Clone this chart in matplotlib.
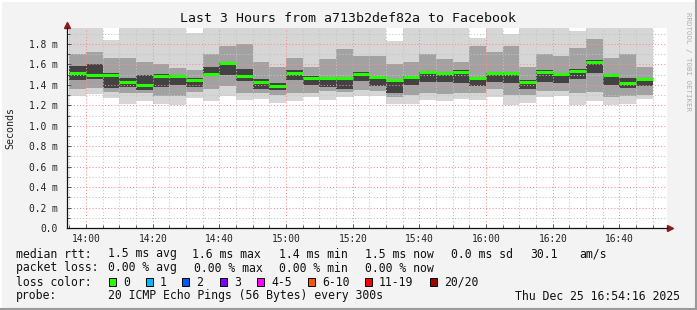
import matplotlib
matplotlib.use("Agg")
import matplotlib.pyplot as plt
import matplotlib.dates as mdates
from matplotlib.patches import Rectangle
from matplotlib.lines import Line2D
import matplotlib.transforms as mtrans
import numpy as np
import pandas as pd

W, H = 697, 310
MONO = "DejaVu Sans Mono"

# 5 minute rounds, 20 pings each (values in ms)
bar_start = pd.date_range("2025-12-25 13:55", periods=35, freq="5min")
median = [1.52, 1.50, 1.494, 1.43, 1.40, 1.49, 1.49, 1.45, 1.51, 1.61,
          1.49, 1.43, 1.39, 1.52, 1.465, 1.465, 1.465, 1.507, 1.48, 1.445,
          1.48, 1.53, 1.52, 1.526, 1.47, 1.517, 1.517, 1.425, 1.526, 1.507,
          1.533, 1.624, 1.50, 1.42, 1.46]
rtt_min = [1.29, 1.31, 1.27, 1.21, 1.24, 1.21, 1.20, 1.27, 1.24, 1.29,
           1.25, 1.26, 1.22, 1.24, 1.285, 1.25, 1.28, 1.29, 1.29, 1.21,
           1.21, 1.25, 1.24, 1.26, 1.25, 1.28, 1.20, 1.22, 1.28, 1.29,
           1.20, 1.24, 1.20, 1.21, 1.26]
rtt_max = [2.0, 2.0, 1.84, 2.0, 2.0, 2.0, 2.0, 1.91, 2.0, 2.0,
           2.0, 2.0, 2.0, 2.0, 2.0, 2.0, 2.0, 2.0, 2.0, 1.83,
           2.0, 2.0, 2.0, 2.0, 1.86, 2.0, 1.90, 2.0, 2.0, 2.0,
           1.93, 2.0, 2.0, 2.0, 2.0]
mid_lo = [1.36, 1.37, 1.33, 1.32, 1.32, 1.29, 1.29, 1.33, 1.36, 1.39,
          1.32, 1.32, 1.30, 1.32, 1.32, 1.34, 1.33, 1.35, 1.34, 1.28,
          1.30, 1.32, 1.31, 1.32, 1.32, 1.36, 1.30, 1.30, 1.34, 1.34,
          1.32, 1.33, 1.28, 1.29, 1.30]
mid_hi = [1.70, 1.72, 1.66, 1.66, 1.62, 1.60, 1.57, 1.55, 1.70, 1.78,
          1.80, 1.62, 1.58, 1.66, 1.58, 1.65, 1.75, 1.68, 1.68, 1.60,
          1.62, 1.70, 1.65, 1.62, 1.78, 1.72, 1.78, 1.58, 1.70, 1.68,
          1.76, 1.85, 1.66, 1.70, 1.58]
core_lo = [1.45, 1.46, 1.37, 1.38, 1.35, 1.38, 1.40, 1.38, 1.49, 1.50,
           1.44, 1.36, 1.35, 1.45, 1.40, 1.38, 1.36, 1.44, 1.39, 1.32,
           1.40, 1.43, 1.43, 1.42, 1.39, 1.43, 1.42, 1.36, 1.43, 1.42,
           1.46, 1.52, 1.40, 1.37, 1.39]
core_hi = [1.59, 1.60, 1.52, 1.47, 1.50, 1.51, 1.50, 1.47, 1.58, 1.62,
           1.56, 1.46, 1.42, 1.55, 1.49, 1.48, 1.47, 1.53, 1.49, 1.45,
           1.49, 1.53, 1.52, 1.55, 1.48, 1.52, 1.52, 1.45, 1.55, 1.52,
           1.56, 1.64, 1.51, 1.47, 1.47]

loss_labels = ["0", "1", "2", "3", "4-5", "6-10", "11-19", "20/20"]
loss_colors = ["#26ff00", "#00b8ff", "#0059ff", "#7e00ff", "#ff00ff",
               "#ff5500", "#ff0000", "#a00000"]

# legend rows: (x pixel, text) pieces
rtt_row = [(16, "median rtt:"), (108, "1.5 ms avg"), (192, "1.6 ms max"),
           (279, "1.4 ms min"), (365, "1.5 ms now"), (451, "0.0 ms sd"),
           (530, "30.1"), (579, "am/s")]
loss_row = [(16, "packet loss:"), (108, "0.00 % avg"), (194, "0.00 % max"),
            (279, "0.00 % min"), (365, "0.00 % now")]
probe_row = [(16, "probe:"), (108, "20 ICMP Echo Pings (56 Bytes) every 300s")]

fig = plt.figure(figsize=(W / 100, H / 100), dpi=100, facecolor="#f3f3f3")
ax = fig.add_axes([67 / W, (H - 228) / H, 600 / W, 200 / H])
ax.set_facecolor("white")

x = mdates.date2num(bar_start.to_pydatetime())
w = 5 / 1440.0
lo = np.array(rtt_min)
ax.bar(x, np.array(rtt_max) - lo, bottom=lo, width=w, align="edge",
       color="#d6d6d6", linewidth=0, zorder=1)
ax.bar(x, np.array(mid_hi) - np.array(mid_lo), bottom=mid_lo, width=w,
       align="edge", color="#a2a2a2", linewidth=0, zorder=1)
ax.bar(x, np.array(core_hi) - np.array(core_lo), bottom=core_lo, width=w,
       align="edge", color="#424242", linewidth=0, zorder=1)
ax.hlines(median, x, x + w, color="#26ff00", lw=2.2, zorder=3)

t0 = pd.Timestamp("2025-12-25 13:54:16").to_pydatetime()
t1 = pd.Timestamp("2025-12-25 16:54:16").to_pydatetime()
ax.set_xlim(mdates.date2num(t0), mdates.date2num(t1))
ax.set_ylim(0, 1.957)

ax.xaxis.set_major_locator(mdates.MinuteLocator(byminute=[0, 20, 40]))
ax.xaxis.set_minor_locator(mdates.MinuteLocator(byminute=range(0, 60, 5)))
ax.xaxis.set_major_formatter(mdates.DateFormatter("%H:%M"))
yt = np.round(np.arange(0, 1.81, 0.2), 1)
ax.set_yticks(yt)
ax.set_yticklabels(["0.0"] + [f"{v:.1f} m" for v in yt[1:]])
ax.set_yticks(np.round(np.arange(0.1, 1.95, 0.2), 1), minor=True)

ax.grid(which="major", color="#ff8c8c", ls=(0, (1, 2)), lw=0.75)
ax.grid(which="minor", color="#c4c4c4", ls=(0, (1, 2)), lw=0.75)

for s in ["top", "right"]:
    ax.spines[s].set_visible(False)
for s in ["left", "bottom"]:
    ax.spines[s].set_color("#111111")
    ax.spines[s].set_linewidth(0.9)
ax.tick_params(which="both", direction="in", colors="#555555", width=0.7)
ax.tick_params(which="major", length=3)
ax.tick_params(which="minor", length=2)
ax.tick_params(axis="x", labelsize=6.9, pad=4, labelcolor="#222222")
ax.tick_params(axis="y", labelsize=6.9, pad=7, labelcolor="#222222")
for lab in ax.get_xticklabels() + ax.get_yticklabels():
    lab.set_family(MONO)

# axis arrows
up = mtrans.offset_copy(ax.transAxes, fig=fig, x=0, y=2.5, units="points")
ax.plot(0, 1, marker="^", color="#8b1a1a", ms=4, transform=up, clip_on=False)
rt = mtrans.offset_copy(ax.transAxes, fig=fig, x=2.5, y=0, units="points")
ax.plot(1, 0, marker=">", color="#8b1a1a", ms=4, transform=rt, clip_on=False)


def px(xp, yp):
    return xp / W, 1 - yp / H


fig.text(*px(348, 19), "Last 3 Hours from a713b2def82a to Facebook",
         family=MONO, fontsize=9.5, ha="center", va="center", color="#111111")
fig.text(*px(10, 128), "Seconds", family=MONO, fontsize=7.2, rotation=90,
         ha="center", va="center", color="#222222")
fig.text(*px(688, 62), "RRDTOOL / TOBI OETIKER", family=MONO, fontsize=5.4,
         rotation=270, ha="center", va="center", color="#b0b0b0")

fs = 8.3
for row_y, row in [(254, rtt_row), (268, loss_row), (296, probe_row)]:
    for tx, txt in row:
        fig.text(*px(tx, row_y), txt, family=MONO, fontsize=fs, va="center",
                 color="#111111")
fig.text(*px(16, 282), "loss color:", family=MONO, fontsize=fs, va="center",
         color="#111111")
box_x = [109, 146, 182, 220, 257, 308, 365, 430]
for bx, lab, col in zip(box_x, loss_labels, loss_colors):
    fig.add_artist(Rectangle(px(bx, 286), 7 / W, 8 / H, facecolor=col,
                             edgecolor="black", lw=0.7,
                             transform=fig.transFigure))
    fig.text(*px(bx + 14, 282), lab, family=MONO, fontsize=fs, va="center",
             color="#111111")
fig.text(*px(680, 296), "Thu Dec 25 16:54:16 2025", family=MONO, fontsize=fs,
         ha="right", va="center", color="#111111")

# 3d-ish frame
fig.add_artist(Line2D([0, 1], [1 - 0.5 / H] * 2, color="#ffffff", lw=1.5,
                      transform=fig.transFigure))
fig.add_artist(Line2D([0.5 / W] * 2, [0, 1], color="#ffffff", lw=1.5,
                      transform=fig.transFigure))
fig.add_artist(Line2D([0, 1], [1 / H] * 2, color="#9a9a9a", lw=1.5,
                      transform=fig.transFigure))
fig.add_artist(Line2D([1 - 1 / W] * 2, [0, 1], color="#9a9a9a", lw=1.5,
                      transform=fig.transFigure))

fig.savefig("out.png", dpi=100, facecolor=fig.get_facecolor())
